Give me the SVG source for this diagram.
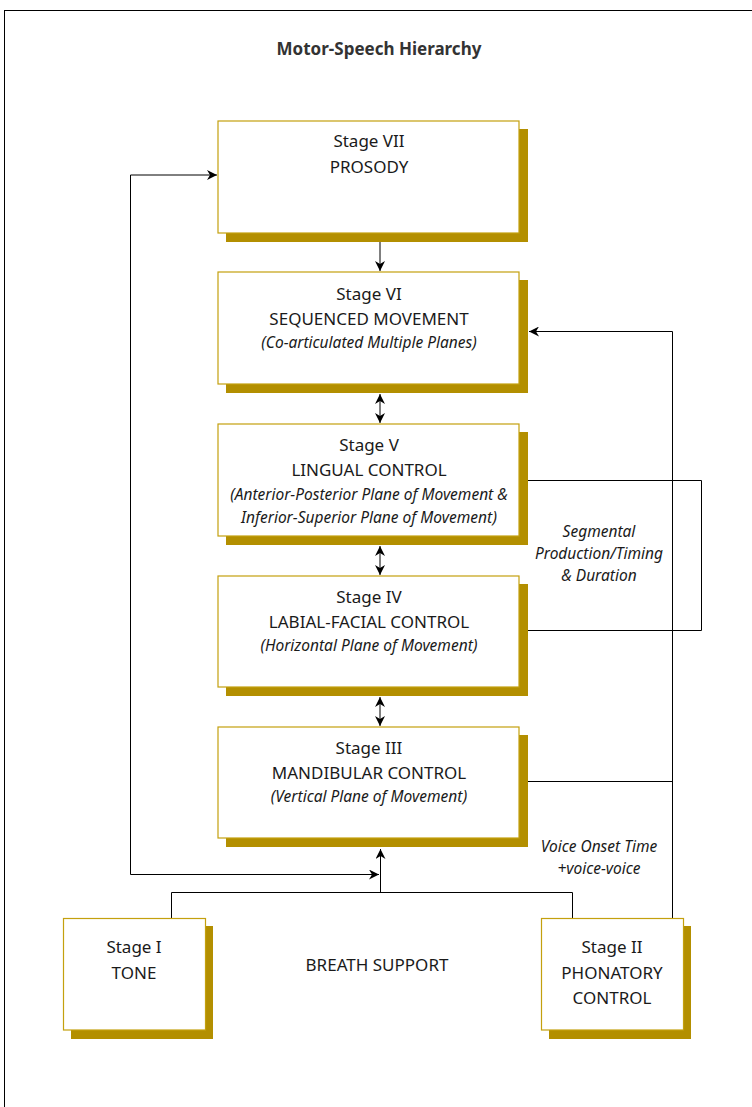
<svg xmlns="http://www.w3.org/2000/svg" width="752" height="1107" viewBox="0 0 752 1107">
<style>
.frame{fill:#fff;stroke:#000;stroke-width:1}
.box{fill:#fff;stroke:#c4a00e;stroke-width:1.2}
.shadow{fill:#b38f00}
.t{font-family:"Noto Sans","Open Sans",sans-serif;font-size:17px;fill:#1a1a1a;text-anchor:middle}
.i{font-family:"Noto Sans","Open Sans",sans-serif;font-size:15.5px;font-style:italic;fill:#1a1a1a;text-anchor:middle}
.title{font-family:"Noto Sans","Open Sans",sans-serif;font-size:17px;font-weight:bold;fill:#333;text-anchor:middle}
.c{fill:none;stroke:#000;stroke-width:1}
.a{marker-end:url(#ah)}
.aa{marker-start:url(#ah);marker-end:url(#ah)}
</style>
<defs>
<marker id="ah" markerWidth="11" markerHeight="10" refX="10" refY="5" orient="auto-start-reverse" markerUnits="userSpaceOnUse">
<path d="M0,0 L10,5 L0,10 L3,5 Z" fill="#000"/>
</marker>
</defs>
<rect class="frame" x="4.5" y="10.5" width="760" height="1110"/>
<text class="title" x="379" y="55">Motor-Speech Hierarchy</text>

<g id="connectors">
<path class="c a" d="M380,242 V271"/>
<path class="c aa" d="M380,394 V423"/>
<path class="c aa" d="M380,546 V575"/>
<path class="c aa" d="M380,697 V726"/>
<path class="c aa" d="M217,175 H130.5 V874.5 H379"/>
<path class="c a" d="M380.5,893 V849"/>
<path class="c" d="M171.5,918 V892.5 H572.5 V918"/>
<path class="c a" d="M672.5,918 V331.5 H529"/>
<path class="c" d="M528,781.5 H672.5"/>
<path class="c" d="M528,480.5 H701.5 V630.5 H528"/>
</g>

<g id="stage7">
<rect class="shadow" x="226" y="129" width="302" height="113"/>
<rect class="box" x="218" y="121" width="301" height="112"/>
<text class="t" x="369" y="147">Stage VII</text>
<text class="t" x="369" y="173">PROSODY</text>
</g>
<g id="stage6">
<rect class="shadow" x="226" y="280" width="302" height="113"/>
<rect class="box" x="218" y="272" width="301" height="112"/>
<text class="t" x="369" y="300">Stage VI</text>
<text class="t" x="369" y="325">SEQUENCED MOVEMENT</text>
<text class="i" x="369" y="348">(Co-articulated Multiple Planes)</text>
</g>
<g id="stage5">
<rect class="shadow" x="226" y="432" width="302" height="113"/>
<rect class="box" x="218" y="424" width="301" height="112"/>
<text class="t" x="369" y="451">Stage V</text>
<text class="t" x="369" y="476">LINGUAL CONTROL</text>
<text class="i" x="369" y="500">(Anterior-Posterior Plane of Movement &amp;</text>
<text class="i" x="369" y="523">Inferior-Superior Plane of Movement)</text>
</g>
<g id="stage4">
<rect class="shadow" x="226" y="584" width="302" height="112"/>
<rect class="box" x="218" y="576" width="301" height="111"/>
<text class="t" x="369" y="603">Stage IV</text>
<text class="t" x="369" y="628">LABIAL-FACIAL CONTROL</text>
<text class="i" x="369" y="651">(Horizontal Plane of Movement)</text>
</g>
<g id="stage3">
<rect class="shadow" x="226" y="735" width="302" height="112"/>
<rect class="box" x="218" y="727" width="301" height="111"/>
<text class="t" x="369" y="754">Stage III</text>
<text class="t" x="369" y="779">MANDIBULAR CONTROL</text>
<text class="i" x="369" y="802">(Vertical Plane of Movement)</text>
</g>
<g id="stage1">
<rect class="shadow" x="71" y="926" width="142" height="113"/>
<rect class="box" x="63.5" y="918.5" width="142" height="111.5"/>
<text class="t" x="134" y="953">Stage I</text>
<text class="t" x="134" y="979">TONE</text>
</g>
<g id="stage2">
<rect class="shadow" x="549" y="926" width="142" height="113"/>
<rect class="box" x="541.5" y="918.5" width="142" height="111.5"/>
<text class="t" x="612" y="953">Stage II</text>
<text class="t" x="612" y="979">PHONATORY</text>
<text class="t" x="612" y="1004">CONTROL</text>
</g>
<g id="breath">
<text class="t" x="377" y="971">BREATH SUPPORT</text>
</g>
<g id="segmental">
<text class="i" x="599" y="537">Segmental</text>
<text class="i" x="599" y="559">Production/Timing</text>
<text class="i" x="599" y="581">&amp; Duration</text>
</g>
<g id="vot">
<text class="i" x="599" y="852">Voice Onset Time</text>
<text class="i" x="599" y="874">+voice-voice</text>
</g>
</svg>
